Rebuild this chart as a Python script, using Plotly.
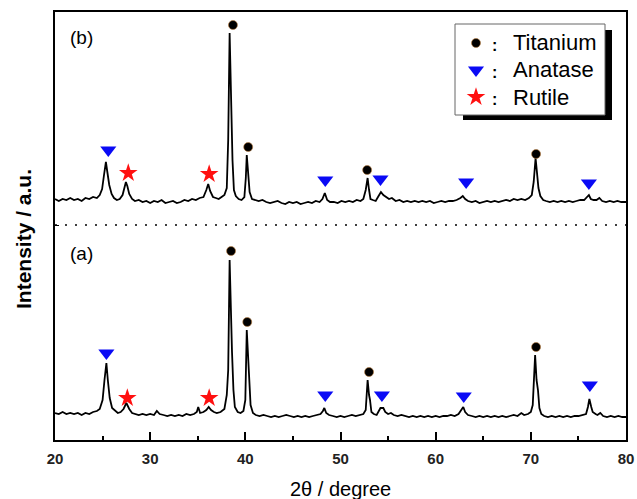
import plotly.graph_objects as go

# XRD pattern (b): 2-theta (degree) and intensity (a.u., vertically offset)
two_theta_b = [
    20.0, 20.4, 20.8, 21.2, 21.6, 22.0, 22.4, 22.8, 23.2, 23.6, 24.0, 24.4, 24.7, 24.95, 25.15,
    25.35, 25.5, 25.7, 25.95, 26.2, 26.5, 26.8, 27.1, 27.3, 27.45, 27.6, 27.8, 28.1, 28.4, 28.8,
    29.2, 29.6, 30.0, 30.4, 30.8, 31.2, 31.6, 32.0, 32.4, 32.8, 33.2, 33.6, 34.0, 34.4, 34.8,
    35.2, 35.6, 35.9, 36.1, 36.3, 36.6, 36.9, 37.2, 37.5, 37.8, 38.05, 38.2, 38.35, 38.5, 38.65,
    38.8, 39.0, 39.3, 39.6, 39.9, 40.05, 40.15, 40.3, 40.45, 40.7, 41.0, 41.4, 41.8, 42.2, 42.6,
    43.0, 43.4, 43.8, 44.2, 44.6, 45.0, 45.4, 45.8, 46.2, 46.6, 47.0, 47.4, 47.8, 48.1, 48.35,
    48.6, 48.9, 49.3, 49.7, 50.1, 50.5, 50.9, 51.3, 51.7, 52.1, 52.4, 52.65, 52.85, 53.0, 53.15,
    53.4, 53.7, 54.0, 54.25, 54.5, 54.8, 55.1, 55.4, 55.8, 56.2, 56.6, 57.0, 57.4, 57.8, 58.2,
    58.6, 59.0, 59.4, 59.8, 60.2, 60.6, 61.0, 61.4, 61.8, 62.2, 62.6, 62.85, 63.1, 63.4, 63.8,
    64.2, 64.6, 65.0, 65.4, 65.8, 66.2, 66.6, 67.0, 67.4, 67.8, 68.2, 68.6, 69.0, 69.4, 69.8,
    70.1, 70.3, 70.5, 70.65, 70.8, 71.0, 71.3, 71.6, 72.0, 72.4, 72.8, 73.2, 73.6, 74.0, 74.4,
    74.8, 75.2, 75.6, 75.9, 76.1, 76.3, 76.6, 76.9, 77.2, 77.5, 77.9, 78.3, 78.7, 79.1, 79.5,
    80.0,
]
intensity_b = [
    241, 239, 241, 240, 242, 240, 241, 239, 242, 241, 243, 242, 245, 251, 265,
    278, 268, 255, 246, 242, 240, 241, 245, 253, 258, 254, 246, 241, 239, 240,
    238, 239, 237, 239, 238, 240, 237, 238, 239, 237, 238, 240, 239, 241, 240,
    242, 243, 250, 256, 249, 243, 242, 241, 243, 245, 252, 300, 407, 330, 280,
    250, 244, 241, 240, 243, 262, 285, 262, 248, 241, 240, 239, 240, 238, 237,
    238, 239, 237, 236, 238, 237, 238, 236, 237, 238, 237, 239, 238, 241, 247,
    240, 238, 238, 237, 239, 238, 239, 238, 240, 239, 241, 250, 262, 250, 241,
    240, 239, 244, 248, 245, 243, 241, 242, 239, 240, 238, 239, 238, 239, 238,
    239, 238, 239, 237, 238, 239, 238, 239, 239, 240, 242, 244, 241, 239, 238,
    239, 237, 238, 239, 238, 239, 238, 239, 240, 239, 241, 240, 241, 240, 242,
    245, 258, 282, 270, 252, 244, 240, 239, 238, 239, 238, 239, 238, 239, 238,
    239, 240, 240, 243, 245, 241, 240, 240, 242, 239, 238, 239, 238, 239, 238,
    238,
]

# XRD pattern (a)
two_theta_a = [
    20.0, 20.4, 20.8, 21.2, 21.6, 22.0, 22.4, 22.8, 23.2, 23.6, 24.0, 24.4, 24.7, 25.0, 25.2,
    25.4, 25.55, 25.75, 26.0, 26.3, 26.6, 26.9, 27.2, 27.5, 27.8, 28.1, 28.4, 28.8, 29.2, 29.6,
    30.0, 30.4, 30.7, 31.0, 31.4, 31.8, 32.2, 32.6, 33.0, 33.4, 33.8, 34.2, 34.6, 34.9, 35.05,
    35.25, 35.6, 35.9, 36.15, 36.4, 36.7, 37.0, 37.4, 37.8, 38.05, 38.2, 38.35, 38.5, 38.6, 38.75,
    38.9, 39.2, 39.5, 39.8, 40.0, 40.15, 40.3, 40.4, 40.55, 40.8, 41.1, 41.5, 41.9, 42.3, 42.7,
    43.1, 43.5, 43.9, 44.3, 44.7, 45.1, 45.5, 45.9, 46.3, 46.7, 47.1, 47.5, 47.9, 48.15, 48.3,
    48.5, 48.8, 49.2, 49.6, 50.0, 50.4, 50.8, 51.2, 51.6, 52.0, 52.4, 52.65, 52.85, 53.0, 53.1,
    53.25, 53.5, 53.8, 54.0, 54.2, 54.5, 54.7, 55.0, 55.3, 55.6, 56.0, 56.4, 56.8, 57.2, 57.6,
    58.0, 58.4, 58.8, 59.2, 59.6, 60.0, 60.4, 60.8, 61.2, 61.6, 62.0, 62.4, 62.7, 62.9, 63.1,
    63.4, 63.8, 64.2, 64.6, 65.0, 65.4, 65.8, 66.2, 66.6, 67.0, 67.4, 67.8, 68.2, 68.6, 69.0,
    69.3, 69.7, 70.0, 70.2, 70.45, 70.6, 70.75, 70.9, 71.1, 71.4, 71.8, 72.2, 72.6, 73.0, 73.4,
    73.8, 74.2, 74.6, 75.0, 75.4, 75.8, 76.0, 76.15, 76.35, 76.5, 76.8, 77.0, 77.3, 77.6, 78.0,
    78.4, 78.8, 79.2, 79.6, 80.0,
]
intensity_a = [
    27, 26, 28, 26, 27, 26, 27, 25, 27, 26, 28, 29, 31, 40, 60,
    77, 60, 42, 32, 29, 27, 28, 31, 37, 31, 27, 26, 25, 26, 25,
    26, 25, 29, 26, 25, 24, 25, 24, 25, 24, 26, 25, 26, 28, 33,
    27, 28, 30, 33, 30, 28, 27, 28, 31, 45, 70, 180, 110, 88, 50,
    33, 28, 27, 29, 40, 110, 80, 65, 35, 27, 25, 24, 25, 24, 23,
    24, 23, 24, 25, 24, 23, 24, 23, 24, 23, 24, 25, 26, 29, 32,
    27, 25, 24, 23, 24, 23, 24, 25, 24, 25, 26, 30, 60, 45, 40,
    28, 26, 25, 29, 32, 32, 28, 26, 27, 25, 24, 25, 24, 23, 24,
    23, 24, 23, 24, 23, 24, 23, 24, 24, 25, 24, 26, 30, 33, 28,
    25, 24, 23, 24, 23, 24, 23, 24, 23, 24, 23, 24, 25, 24, 27,
    25, 26, 28, 35, 85, 60, 50, 32, 26, 24, 23, 24, 23, 24, 23,
    24, 23, 24, 24, 25, 26, 33, 41, 33, 28, 26, 25, 27, 24, 23,
    24, 23, 24, 23, 23,
]

# Phase identification marks placed above the indexed reflections
titanium_x = [38.7, 40.3, 52.8, 70.55, 38.5, 40.2, 53.0, 70.55]
titanium_y = [415, 293, 270, 286, 189, 118, 68, 93]
anatase_x = [25.6, 48.4, 54.2, 63.2, 76.1, 25.4, 48.4, 54.35, 62.95, 76.2]
anatase_y = [290, 260, 261, 258, 257, 87, 45, 45, 44, 55]
rutile_x = [27.7, 36.2, 27.6, 36.2]
rutile_y = [267, 266, 42, 42]

phase_names = ["Titanium", "Anatase", "Rutile"]
x_ticks = [20, 30, 40, 50, 60, 70, 80]
separator_level = 215

X_RANGE = (20, 80)
Y_RANGE = (0, 428)

FONT = "Arial, Liberation Sans, sans-serif"

# plot-area geometry (pixels) used to place the key box and titles
PLOT_L, PLOT_R, PLOT_T, PLOT_B = 55, 626, 12, 440


def px_to_paper(px, py):
    return ((px - PLOT_L) / (PLOT_R - PLOT_L), (PLOT_B - py) / (PLOT_B - PLOT_T))


def paper_to_data(xp, yp):
    return (X_RANGE[0] + xp * (X_RANGE[1] - X_RANGE[0]),
            Y_RANGE[0] + yp * (Y_RANGE[1] - Y_RANGE[0]))


phase_styles = [
    dict(symbol="circle", size=9, color="black", line=dict(color="#b87a3a", width=0.6)),
    dict(symbol="triangle-down", size=14, color="#0a0af5", line=dict(width=0)),
    dict(symbol="star", size=14, color="#ff1010", line=dict(width=0)),
]

fig = go.Figure()

for xs, ys in [(two_theta_b, intensity_b), (two_theta_a, intensity_a)]:
    fig.add_trace(go.Scatter(
        x=xs, y=ys, mode="lines",
        line=dict(color="black", width=1.8),
        showlegend=False, hoverinfo="skip",
    ))

for (xs, ys), name, style in zip(
        [(titanium_x, titanium_y), (anatase_x, anatase_y), (rutile_x, rutile_y)],
        phase_names, phase_styles):
    fig.add_trace(go.Scatter(x=xs, y=ys, mode="markers", name=name,
                             marker=style, showlegend=False))

# dotted separator between the two patterns
fig.add_shape(
    type="line", xref="paper", x0=0, x1=1, yref="y",
    y0=separator_level, y1=separator_level,
    line=dict(color="black", width=1.5, dash="2px,8px"),
)

# key box with drop shadow (kept under the traces so the key symbols show)
sx0, sy0 = px_to_paper(463, 120)
sx1, sy1 = px_to_paper(612, 30)
fig.add_shape(type="rect", xref="paper", yref="paper", x0=sx0, y0=sy0, x1=sx1, y1=sy1,
              fillcolor="black", line=dict(width=0), layer="below")
bx0, by0 = px_to_paper(455, 115)
bx1, by1 = px_to_paper(605, 24)
fig.add_shape(type="rect", xref="paper", yref="paper", x0=bx0, y0=by0, x1=bx1, y1=by1,
              fillcolor="white", line=dict(color="#666", width=1), layer="below")

key_rows_px = [43, 70, 97]
for row_py, name, style in zip(key_rows_px, phase_names, phase_styles):
    kx, ky = paper_to_data(*px_to_paper(476, row_py))
    fig.add_trace(go.Scatter(x=[kx], y=[ky], mode="markers", marker=style,
                             showlegend=False, hoverinfo="skip", cliponaxis=False))
    cx, cy = px_to_paper(494, row_py + 2)
    fig.add_annotation(x=cx, y=cy, xref="paper", yref="paper", text=":",
                       showarrow=False, xanchor="center", yanchor="middle",
                       font=dict(family=FONT, size=16, color="black", weight="bold"))
    tx, ty = px_to_paper(511, row_py)
    fig.add_annotation(x=tx, y=ty, xref="paper", yref="paper", text=name,
                       showarrow=False, xanchor="left", yanchor="middle",
                       font=dict(family=FONT, size=22, color="black"))

for label, py in [("(b)", 37), ("(a)", 253)]:
    lx, ly = px_to_paper(81, py)
    fig.add_annotation(x=lx, y=ly, xref="paper", yref="paper", text=label,
                       showarrow=False, xanchor="center", yanchor="middle",
                       font=dict(family=FONT, size=19, color="black"))

# axis titles
yx, yy = px_to_paper(23, 239)
fig.add_annotation(x=yx, y=yy, xref="paper", yref="paper", text="Intensity / a.u.",
                   textangle=-90, showarrow=False, xanchor="center", yanchor="middle",
                   font=dict(family=FONT, size=21, color="black", weight="bold"))
xx, xy = px_to_paper(340, 489)
fig.add_annotation(x=xx, y=xy, xref="paper", yref="paper", text="2θ / degree",
                   showarrow=False, xanchor="center", yanchor="middle",
                   font=dict(family=FONT, size=20, color="black"))

fig.update_layout(
    width=637, height=499,
    margin=dict(l=PLOT_L, r=637 - PLOT_R, t=PLOT_T, b=499 - PLOT_B, autoexpand=False),
    paper_bgcolor="white", plot_bgcolor="white",
    font=dict(family=FONT, color="black"),
    showlegend=False,
    xaxis=dict(
        range=list(X_RANGE), tickvals=x_ticks, ticks="inside", ticklen=8, tickwidth=1.5,
        tickcolor="black", showline=True, linecolor="black", linewidth=1.5, mirror=True,
        showgrid=False, zeroline=False, ticklabelstandoff=4, automargin=False,
        tickfont=dict(family=FONT, size=15, color="#222", weight="bold"),
        minor=dict(dtick=5, tick0=25, ticks="inside", ticklen=4, tickcolor="black"),
    ),
    yaxis=dict(
        range=list(Y_RANGE), tickvals=[separator_level], ticks="inside", ticklen=4,
        tickcolor="black", showticklabels=False, automargin=False,
        showline=True, linecolor="black", linewidth=1.5, mirror=True,
        showgrid=False, zeroline=False,
    ),
)

fig.write_html("out.html")
